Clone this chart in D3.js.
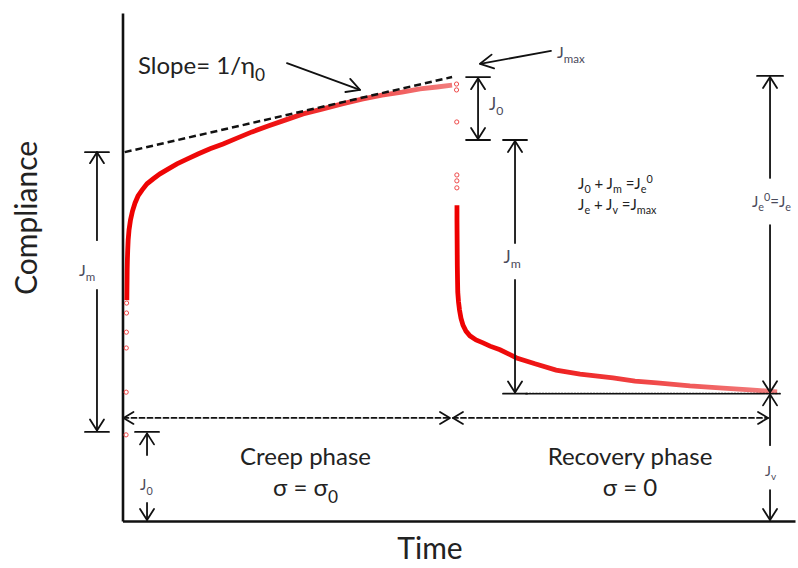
<!DOCTYPE html>
<html>
<head>
<meta charset="utf-8">
<script src="https://cdn.jsdelivr.net/npm/d3@7/dist/d3.min.js"></script>
<style>
  body { margin: 0; background: #fff; }
  svg text { font-family: Lato, "Open Sans", sans-serif; fill: #222; }
  svg text.lab { fill: #4a4a5a; }
  .arr { fill: none; stroke: #111; stroke-width: 1.8; stroke-linecap: round; stroke-linejoin: round; }
</style>
</head>
<body>
<svg id="chart" width="798" height="568"></svg>
<script>
// creep: first few readings right after loading, then the continuous part
const creepStartTime = [3.2, 3.3, 3.4, 3.5, 3.6, 3.7]
const creepStartJ = [0.234, 0.350, 0.470, 0.513, 0.565, 0.592]
const creepTime = [3.9, 4.0, 4.1, 4.2, 4.4, 4.7, 5.1, 5.9, 7.2, 9.0, 11.3, 14.0, 17.6, 22.1, 27.5, 33.8, 41.0, 49.1, 58.1, 68.0,
  78.9, 90.6, 103.2, 116.7, 131.2, 146.5, 162.7, 179.8, 197.9, 215.8, 233.9, 251.9, 268.1, 283.4, 297.0]
const creepJ = [0.600, 0.628, 0.655, 0.682, 0.709, 0.736, 0.763, 0.791, 0.818, 0.842, 0.864, 0.883, 0.899, 0.916, 0.929, 0.943, 0.956, 0.970, 0.983, 0.997,
  1.011, 1.024, 1.040, 1.057, 1.073, 1.089, 1.106, 1.119, 1.133, 1.146, 1.157, 1.165, 1.174, 1.179, 1.184]

// recovery: sparse points of the elastic drop, then the continuous part
const recoveryStartTime = [301.0, 301.0, 301.2, 301.3, 301.3, 301.3]
const recoveryStartJ = [1.187, 1.171, 1.084, 0.940, 0.924, 0.905]
const recoveryTime = [301.4, 301.4, 301.5, 301.6, 301.7, 301.9, 302.1, 302.8, 303.7, 305.0, 306.8, 309.5, 313.1, 318.6, 324.9, 331.2,
  340.2, 355.2, 371.7, 390.7, 412.3, 442.0, 461.8, 481.7, 511.4, 541.2, 565.5, 589.9]
const recoveryJ = [0.858, 0.818, 0.777, 0.736, 0.695, 0.655, 0.622, 0.595, 0.573, 0.551, 0.532, 0.516, 0.503, 0.492, 0.484, 0.475,
  0.465, 0.443, 0.427, 0.410, 0.399, 0.389, 0.380, 0.375, 0.367, 0.361, 0.356, 0.351]

// tangent of the steady flow part (slope = 1/eta0)
const slopeTime = [2, 297]
const slopeJ = [1.002, 1.206]

// compliance levels used by the annotations
const J_MAX = 1.206, J_E0 = 1.002, J_0 = 0.242, J_REC0 = 1.035, J_END = 0.346, J_PHASE = 0.280

const svg = d3.select('#chart')
const x = d3.scaleLinear().domain([0, 606]).range([122.5, 795])
const y = d3.scaleLinear().domain([0, 1.38]).range([521, 13])

// gradients so the sparse tails look lighter like the open circles
const defs = svg.append('defs')
function fade(id, t0, t1, tMid) {
  const gr = defs.append('linearGradient').attr('id', id)
    .attr('gradientUnits', 'userSpaceOnUse')
    .attr('x1', x(t0)).attr('x2', x(t1)).attr('y1', 0).attr('y2', 0)
  gr.append('stop').attr('offset', 0).attr('stop-color', '#ee0000')
  gr.append('stop').attr('offset', (tMid - t0) / (t1 - t0)).attr('stop-color', '#ee1010')
  gr.append('stop').attr('offset', 1).attr('stop-color', '#f28080')
}
fade('creepFade', 0, 300, 130)
fade('recFade', 300, 590, 360)

// axes, no ticks
svg.append('g').attr('transform', 'translate(0,521)')
  .call(d3.axisBottom(x).tickValues([]).tickSizeOuter(0))
  .select('.domain').attr('stroke', '#111').attr('stroke-width', 2.6)
svg.append('g').attr('transform', 'translate(122.5,0)')
  .call(d3.axisLeft(y).tickValues([]).tickSizeOuter(0))
  .select('.domain').attr('stroke', '#111').attr('stroke-width', 2.6)

const line = d3.line().x(d => x(d[0])).y(d => y(d[1]))

svg.append('path')
  .datum(d3.zip(creepTime, creepJ))
  .attr('d', line)
  .attr('fill', 'none').attr('stroke', 'url(#creepFade)').attr('stroke-width', 4.8)

svg.append('path')
  .datum(d3.zip(recoveryTime, recoveryJ))
  .attr('d', line)
  .attr('fill', 'none').attr('stroke', 'url(#recFade)').attr('stroke-width', 4.8)

svg.selectAll('.pt')
  .data(d3.zip(creepStartTime, creepStartJ).concat(d3.zip(recoveryStartTime, recoveryStartJ)))
  .enter()
  .append('circle')
  .classed('pt', true)
  .attr('cx', d => x(d[0]))
  .attr('cy', d => y(d[1]))
  .attr('r', 2.1)
  .attr('fill', 'none')
  .attr('stroke', '#ef4a4a')
  .attr('stroke-width', 1)

// dashed tangent
svg.append('path')
  .datum(d3.zip(slopeTime, slopeJ))
  .attr('d', line)
  .attr('fill', 'none').attr('stroke', '#111').attr('stroke-width', 2.5)
  .attr('stroke-dasharray', '7,4')

// ---- annotation helpers ----
const ann = svg.append('g')

function seg(t1, j1, t2, j2, dash) {
  const s = ann.append('line').classed('arr', true)
    .attr('x1', x(t1)).attr('y1', y(j1)).attr('x2', x(t2)).attr('y2', y(j2))
  if (dash) s.attr('stroke-dasharray', dash)
  return s
}

function head(t1, j1, t2, j2, len, hw) {
  const x1 = x(t1), y1 = y(j1), x2 = x(t2), y2 = y(j2)
  const a = Math.atan2(y2 - y1, x2 - x1)
  const ux = Math.cos(a), uy = Math.sin(a)
  ann.append('path').classed('arr', true)
    .attr('d', `M${x2 - len * ux - hw * uy},${y2 - len * uy + hw * ux}L${x2},${y2}L${x2 - len * ux + hw * uy},${y2 - len * uy - hw * ux}`)
}

function cap(t, j, half) {
  ann.append('line').classed('arr', true).attr('stroke-width', 2.2)
    .attr('x1', x(t) - half).attr('x2', x(t) + half).attr('y1', y(j)).attr('y2', y(j))
}

// vertical arrow from j1 to j2 (tip at j2)
function vArrow(t, j1, j2) {
  seg(t, j1, t, j2)
  head(t, j1, t, j2, 11, 7)
}

function rich(tx, jy, parts, size, cls, anchor) {
  const el = ann.append('text')
    .attr('x', x(tx)).attr('y', y(jy))
    .attr('font-size', size)
    .attr('text-anchor', anchor || 'start')
  if (cls) el.classed(cls, true)
  let shift = 0
  parts.forEach(p => {
    const want = p[1] === 'sub' ? size * 0.3 : p[1] === 'sup' ? -size * 0.4 : 0
    el.append('tspan')
      .attr('dy', want - shift)
      .attr('font-size', p[1] ? size * 0.72 : size)
      .text(p[0])
    shift = want
  })
  return el
}

// ---- left Jm bracket ----
const tLeft = -23
cap(tLeft, J_E0, 12)
vArrow(tLeft, 0.763, J_E0)
vArrow(tLeft, 0.628, J_0 + 0.004)
cap(tLeft, J_0, 12)
rich(-39.2, 0.666, [['J'], ['m', 'sub']], 16, 'lab')

// ---- bottom J0 ----
const tBot = 22.1
cap(tBot, J_0, 12)
vArrow(tBot, 0.179, J_0 - 0.004)
vArrow(tBot, 0.049, 0.003)
rich(15.8, 0.084, [['J'], ['0', 'sub']], 15, 'lab')

// ---- phase arrows ----
seg(0.9, J_PHASE, 295.1, J_PHASE, '5,3').attr('stroke-width', 1.5)
head(10, J_PHASE, 0.9, J_PHASE, 10, 6)
head(280, J_PHASE, 295.1, J_PHASE, 10, 6)
seg(297.8, J_PHASE, 581.7, J_PHASE, '5,3').attr('stroke-width', 1.5)
head(310, J_PHASE, 297.8, J_PHASE, 10, 6)
head(570, J_PHASE, 581.7, J_PHASE, 10, 6)

// ---- recovery J0 ----
const tRecJ0 = 320.4
cap(tRecJ0, J_MAX, 12)
cap(tRecJ0, J_REC0, 12)
seg(tRecJ0, J_MAX - 0.003, tRecJ0, J_REC0 + 0.003)
head(tRecJ0, J_REC0, tRecJ0, J_MAX - 0.003, 11, 7)
head(tRecJ0, J_MAX, tRecJ0, J_REC0 + 0.003, 11, 7)
rich(330.3, 1.117, [['J'], ['0', 'sub']], 17, 'lab')

// ---- recovery Jm ----
const tRecJm = 353.7
cap(tRecJm, J_REC0, 12)
vArrow(tRecJm, 0.755, J_REC0 - 0.003)
vArrow(tRecJm, 0.655, J_END + 0.003)
cap(tRecJm, J_END, 12)
rich(343.3, 0.701, [['J'], ['m', 'sub']], 17, 'lab')

// dotted final level
seg(tRecJm + 10, J_END, 592.5, J_END, '1.6,1.6').attr('stroke-width', 2).attr('stroke-linecap', 'butt')

// ---- right Je bracket and Jv ----
const tRight = 583.5
cap(tRight, J_MAX + 0.003, 13)
vArrow(tRight, 0.932, J_MAX)
vArrow(tRight, 0.804, J_END + 0.004)
rich(567.2, 0.853, [['J'], ['e', 'sub'], ['0', 'sup'], ['=J'], ['e', 'sub']], 15, 'lab')
vArrow(tRight, 0.206, J_END - 0.002)
vArrow(tRight, 0.084, 0.003)
rich(579, 0.122, [['J'], ['v', 'sub']], 14, 'lab')

// ---- slope label and arrow ----
rich(14.0, 1.214, [['Slope= 1/η'], ['0', 'sub']], 24)
seg(148.2, 1.244, 214.0, 1.171)
head(148.2, 1.244, 214.0, 1.171, 13, 7)

// ---- Jmax label and arrow ----
rich(391.6, 1.258, [['J'], ['max', 'sub']], 16, 'lab')
seg(386.1, 1.277, 322.2, 1.242)
head(386.1, 1.277, 322.2, 1.242, 13, 7)

// ---- relations ----
rich(410.5, 0.902, [['J'], ['0', 'sub'], [' + J'], ['m', 'sub'], [' =J'], ['e', 'sub'], ['0', 'sup']], 15)
rich(410.5, 0.845, [['J'], ['e', 'sub'], [' + J'], ['v', 'sub'], [' =J'], ['max', 'sub']], 15)

// ---- phase texts ----
rich(164.9, 0.152, [['Creep phase']], 24, null, 'middle')
rich(164.9, 0.068, [['σ = σ'], ['0', 'sub']], 24, null, 'middle')
rich(457.3, 0.152, [['Recovery phase']], 24, null, 'middle')
rich(457.3, 0.068, [['σ = 0']], 24, null, 'middle')

// ---- axis titles ----
svg.append('text')
  .attr('x', 430).attr('y', 559)
  .attr('text-anchor', 'middle').attr('font-size', 30)
  .text('Time')
svg.append('text')
  .attr('transform', 'translate(37,218) rotate(-90)')
  .attr('text-anchor', 'middle').attr('font-size', 30)
  .text('Compliance')
</script>
</body>
</html>
